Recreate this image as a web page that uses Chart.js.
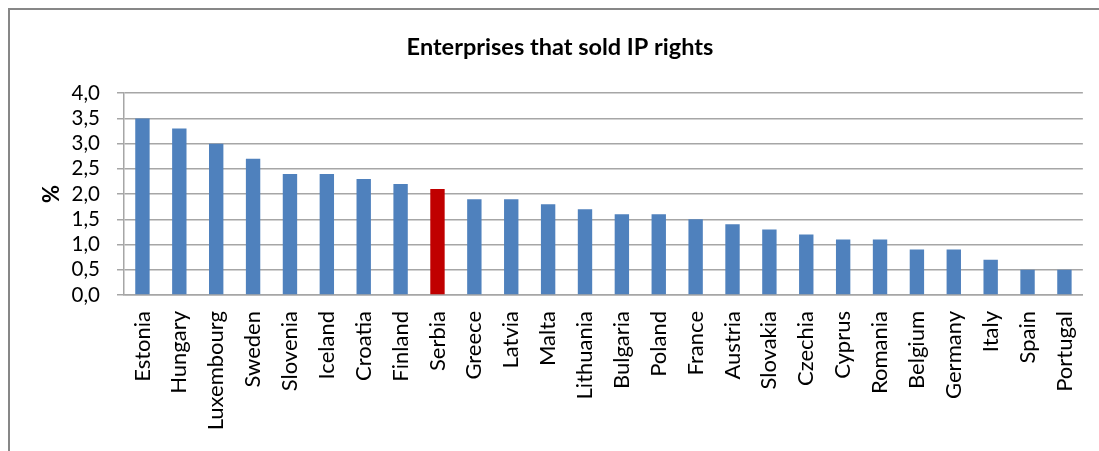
<!DOCTYPE html>
<html>
<head>
<meta charset="utf-8">
<script src="https://cdn.jsdelivr.net/npm/chart.js@4/dist/chart.umd.min.js"></script>
<style>
  html, body { margin: 0; padding: 0; background: #fff; overflow: hidden; }
  #wrap { position: relative; width: 1099px; height: 451px; }
  /* chart frame, runs off the right and bottom edge */
  #frame { position: absolute; left: 8px; top: 8px; width: 1200px; height: 600px;
           border: 2px solid #878787; box-sizing: border-box; }
  #chart { position: absolute; left: 0; top: 0; }
</style>
</head>
<body>
<div id="wrap">
  <div id="frame"></div>
  <canvas id="chart" width="1099" height="451"></canvas>
</div>
<script>
const COUNTRIES = ['Estonia', 'Hungary', 'Luxembourg', 'Sweden', 'Slovenia', 'Iceland', 'Croatia',
  'Finland', 'Serbia', 'Greece', 'Latvia', 'Malta', 'Lithuania', 'Bulgaria', 'Poland', 'France',
  'Austria', 'Slovakia', 'Czechia', 'Cyprus', 'Romania', 'Belgium', 'Germany', 'Italy', 'Spain', 'Portugal'];
const SHARE = [3.5, 3.3, 3.0, 2.7, 2.4, 2.4, 2.3, 2.2, 2.1, 1.9, 1.9, 1.8, 1.7, 1.6, 1.6, 1.5,
  1.4, 1.3, 1.2, 1.1, 1.1, 0.9, 0.9, 0.7, 0.5, 0.5];
const HIGHLIGHT = 'Serbia';
const Y_MIN = 0, Y_MAX = 4, Y_STEP = 0.5;

const BLUE = '#4f81bd';
const RED  = '#c00000';
const GRID = '#a6a6a6';
const FONT = 'Lato, "Open Sans", sans-serif';

new Chart(document.getElementById('chart'), {
  type: 'bar',
  data: {
    labels: COUNTRIES,
    datasets: [{
      label: 'Enterprises that sold IP rights',
      data: SHARE,
      backgroundColor: COUNTRIES.map(c => c === HIGHLIGHT ? RED : BLUE),
      borderWidth: 0,
      categoryPercentage: 1,
      barPercentage: 0.39,
    }],
  },
  options: {
    responsive: false,
    animation: false,
    layout: { padding: { left: 30, right: 9, top: 0, bottom: 0 } },
    plugins: {
      legend:  { display: false },
      tooltip: { enabled: false },
      title: {
        display: true,
        text: 'Enterprises that sold IP rights',
        color: '#000',
        font: { family: FONT, size: 23.5, weight: 'bold', lineHeight: 1.2 },
        padding: { top: 33, bottom: 32 },
      },
    },
    scales: {
      x: {
        grid:   { display: false },
        border: { display: true, color: GRID, width: 1.5 },
        ticks: {
          color: '#000',
          font: { family: FONT, size: 22 },
          minRotation: 90,
          maxRotation: 90,
          autoSkip: false,
          padding: 8,
        },
        afterFit: s => { s.height = 156; },
      },
      y: {
        min: Y_MIN,
        max: Y_MAX,
        grid:   { color: GRID, lineWidth: 1.5, tickLength: 7, drawTicks: true },
        border: { display: true, color: GRID, width: 1.5 },
        ticks: {
          stepSize: Y_STEP,
          autoSkip: false,
          color: '#000',
          font: { family: FONT, size: 20.5 },
          padding: 17,
          callback: v => v.toFixed(1).replace('.', ','),
        },
        title: {
          display: true,
          text: '%',
          color: '#000',
          font: { family: FONT, size: 22, weight: 'bold', lineHeight: 1.2 },
          padding: { top: 9, bottom: 0 },
        },
        afterFit: s => { s.width = 94; },
      },
    },
  },
});
</script>
</body>
</html>
